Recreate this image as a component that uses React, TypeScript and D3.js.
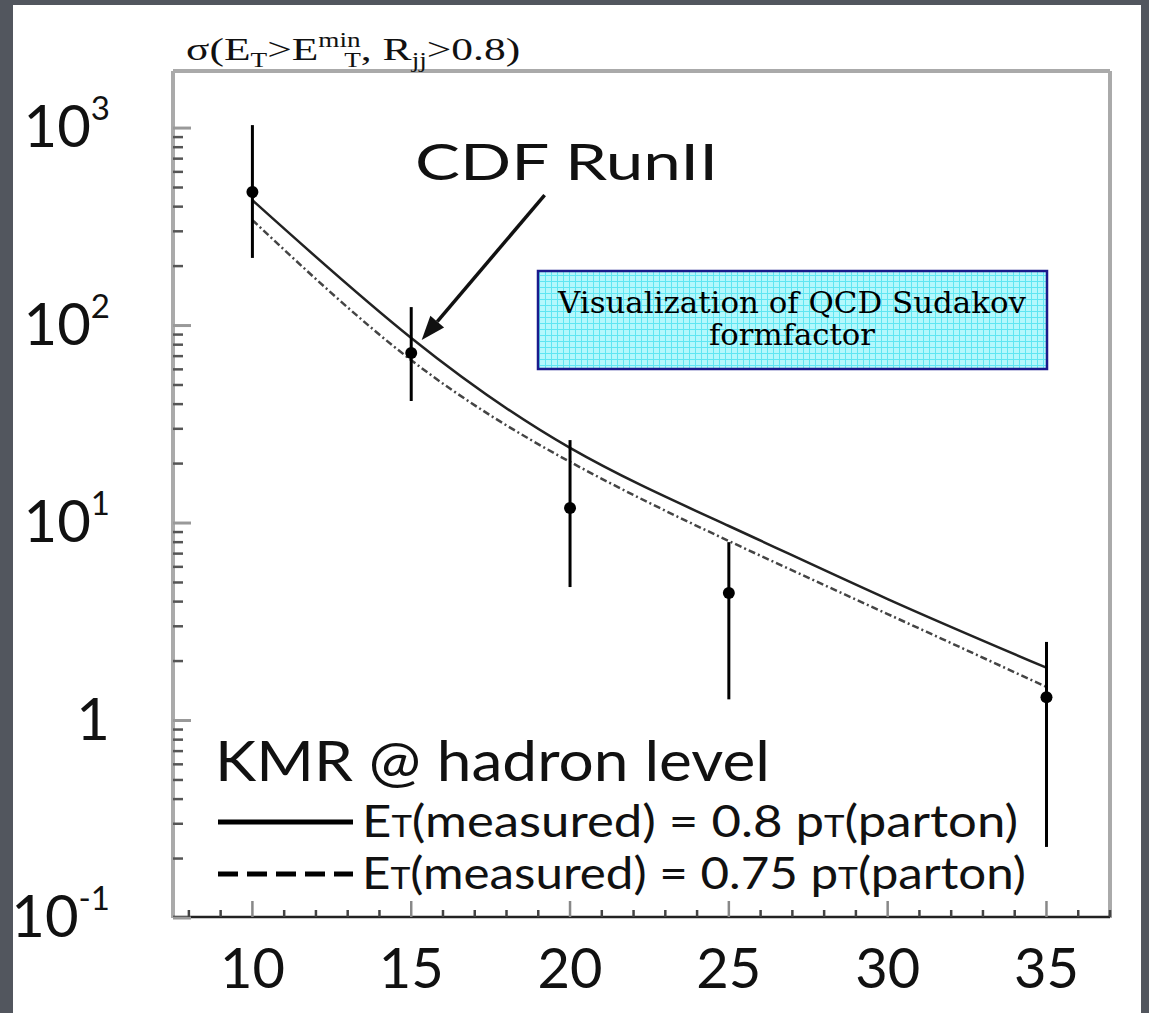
import * as d3 from "d3";

// CDF Run II points (E_T^min, sigma with error bar ends)
const etMin = [10, 15, 20, 25, 35];
const sigma = [474, 72.6, 11.9, 4.42, 1.31];
const errHigh = [1035, 124, 26.3, 8.0, 2.5];
const errLow = [220, 41.5, 4.74, 1.28, 0.229];

// KMR curves at hadron level
const curveEt = [10, 15, 20, 25, 30, 35];
const kmr080 = [431, 86.5, 24.0, 9.66, 4.12, 1.85];
const kmr075 = [342, 66.8, 20.4, 8.11, 3.46, 1.48];

const xTickValues = [10, 15, 20, 25, 30, 35];
const yTickValues = [1000, 100, 10, 1, 0.1];
const yTickBase = ["10", "10", "10", "1", "10"];
const yTickExp = ["3", "2", "1", "", "-1"];

const legendRatio = ["0.8", "0.75"];

// arrow from the "CDF RunII" label to the 15 GeV point, in data units
const arrowTail = [19.2, 458];
const arrowTip = [15.33, 84.5];

export default function App() {
  const width = 1149;
  const height = 1013;

  const x = d3.scaleLinear().domain([7.5, 37]).range([173, 1110]);
  const y = d3.scaleLog().domain([0.1, 1945]).range([918, 71]);

  const [x0, x1] = x.range();
  const yBottom = y.range()[0];
  const yTop = y.range()[1];

  /*------------ minor ticks ------------*/
  const yMinor: number[] = [];
  for (let e = -1; e <= 3; e++) {
    for (let m = 2; m <= 9; m++) {
      const v = m * Math.pow(10, e);
      if (v < y.domain()[1]) yMinor.push(v);
    }
  }
  const xMinor = d3.range(8, 38, 1).filter((v) => v % 5 !== 0);

  const line = d3
    .line<number>()
    .x((d, i) => x(curveEt[i]))
    .y((d) => y(d))
    .curve(d3.curveNatural);

  /*------------ arrow ------------*/
  const tx = x(arrowTail[0]), ty = y(arrowTail[1]);
  const hx = x(arrowTip[0]), hy = y(arrowTip[1]);
  const ang = Math.atan2(hy - ty, hx - tx);
  const headLen = 24, headW = 9;
  const bx = hx - headLen * Math.cos(ang), by = hy - headLen * Math.sin(ang);
  const head = [
    [hx, hy],
    [bx + headW * Math.sin(ang), by - headW * Math.cos(ang)],
    [bx - headW * Math.sin(ang), by + headW * Math.cos(ang)],
  ];

  const sans = "Lato, 'Open Sans', sans-serif";

  return (
    <svg
      width={width}
      height={height}
      style={{ position: "absolute", left: 0, top: 0 }}
    >
      <defs>
        <pattern id="grid" width="6" height="6" patternUnits="userSpaceOnUse">
          <rect width="6" height="6" fill="#b4f8fc" />
          <path d="M0 5.5 H6 M5.5 0 V6" stroke="#5fe6f2" strokeWidth="1" />
        </pattern>
      </defs>

      {/* slide background */}
      <rect width={width} height={height} fill="#52565e" />
      <rect x={13} y={5} width={1128} height={height - 5} fill="#ffffff" />

      {/* frame */}
      <line x1={x0} y1={yTop} x2={x1} y2={yTop} stroke="#aaaaaa" strokeWidth={4} />
      <line x1={x0} y1={yTop} x2={x0} y2={yBottom} stroke="#aaaaaa" strokeWidth={4} />
      <line x1={x1} y1={yTop} x2={x1} y2={yBottom} stroke="#aaaaaa" strokeWidth={4} />
      <line x1={x0} y1={yBottom - 1} x2={x1} y2={yBottom - 1} stroke="#222" strokeWidth={2.5} />

      {/* y ticks */}
      {yTickValues.map((v) => (
        <line key={"ym" + v} x1={x0} x2={x0 + 18} y1={y(v)} y2={y(v)} stroke="#999" strokeWidth={3} />
      ))}
      {yMinor.map((v) => (
        <line key={"yn" + v} x1={x0} x2={x0 + 10} y1={y(v)} y2={y(v)} stroke="#555" strokeWidth={2.5} />
      ))}

      {/* x ticks */}
      {xTickValues.map((v) => (
        <line key={"xm" + v} x1={x(v)} x2={x(v)} y1={yBottom - 1} y2={yBottom - 17} stroke="#888" strokeWidth={2.5} />
      ))}
      {xMinor.map((v) => (
        <line key={"xn" + v} x1={x(v)} x2={x(v)} y1={yBottom - 1} y2={yBottom - 8} stroke="#444" strokeWidth={2.5} />
      ))}

      {/* y labels */}
      {yTickValues.map((v, i) => (
        <text key={"yl" + v} x={110} y={y(v) + 19} textAnchor="end" fontFamily={sans} fontSize={58} fill="#111">
          {yTickBase[i]}
          {yTickExp[i] !== "" && (
            <tspan fontSize={33} dy={-27}>{yTickExp[i]}</tspan>
          )}
        </text>
      ))}

      {/* x labels */}
      {xTickValues.map((v) => (
        <text key={"xl" + v} x={x(v)} y={988} textAnchor="middle" fontFamily={sans} fontSize={56} fill="#111">
          {v}
        </text>
      ))}

      {/* title */}
      <text
        transform="translate(186,60) scale(1.36,1)"
        fontFamily="'Liberation Serif', 'Times New Roman', serif"
        fontSize={32}
        fill="#111"
      >
        σ(E
        <tspan fontSize={20} dy={7}>T</tspan>
        <tspan dy={-7}>&gt;E</tspan>
        <tspan fontSize={20} dy={-13}>min</tspan>
        <tspan fontSize={20} dx={-12} dy={20}>T</tspan>
        <tspan dy={-7}>, R</tspan>
        <tspan fontSize={20} dy={7}>jj</tspan>
        <tspan dy={-7}>&gt;0.8)</tspan>
      </text>

      {/* KMR curves */}
      <path d={line(kmr075) || ""} fill="none" stroke="#444" strokeWidth={2.5} strokeDasharray="7 3 2 3" />
      <path d={line(kmr080) || ""} fill="none" stroke="#222" strokeWidth={2.5} />

      {/* data */}
      {etMin.map((e, i) => (
        <g key={"pt" + e}>
          <line x1={x(e)} x2={x(e)} y1={y(errHigh[i])} y2={y(errLow[i])} stroke="#000" strokeWidth={3} />
          <circle cx={x(e)} cy={y(sigma[i])} r={6} fill="#000" />
        </g>
      ))}

      {/* annotation */}
      <text x={415} y={180} fontFamily={sans} fontSize={50} textLength={303} lengthAdjust="spacingAndGlyphs" fill="#111">
        CDF RunII
      </text>
      <line x1={tx} y1={ty} x2={bx} y2={by} stroke="#111" strokeWidth={3.5} />
      <polygon points={head.map((p) => p.join(",")).join(" ")} fill="#111" />

      <rect x={538} y={271} width={509} height={98} fill="url(#grid)" stroke="#1a1a8c" strokeWidth={2.5} />
      <text x={792} y={313} textAnchor="middle" fontFamily="'DejaVu Serif', serif" fontSize={30} textLength={468} lengthAdjust="spacingAndGlyphs" fill="#000">
        Visualization of QCD Sudakov
      </text>
      <text x={792} y={345} textAnchor="middle" fontFamily="'DejaVu Serif', serif" fontSize={30} textLength={166} lengthAdjust="spacingAndGlyphs" fill="#000">
        formfactor
      </text>

      {/* legend */}
      <text x={215} y={781} fontFamily={sans} fontSize={56} textLength={555} lengthAdjust="spacingAndGlyphs" fill="#111">
        KMR @ hadron level
      </text>
      <line x1={218} x2={353} y1={822} y2={822} stroke="#000" strokeWidth={5} />
      <line x1={218} x2={353} y1={874} y2={874} stroke="#000" strokeWidth={5} strokeDasharray="20 9" />
      {legendRatio.map((r, i) => (
        <text
          key={"lg" + r}
          x={362}
          y={837 + 52 * i}
          fontFamily={sans}
          fontSize={44}
          textLength={i === 0 ? 656 : 664}
          lengthAdjust="spacingAndGlyphs"
          fill="#111"
        >
          E<tspan fontSize={30}>T</tspan>(measured) = {r} p<tspan fontSize={30}>T</tspan>(parton)
        </text>
      ))}
    </svg>
  );
}
